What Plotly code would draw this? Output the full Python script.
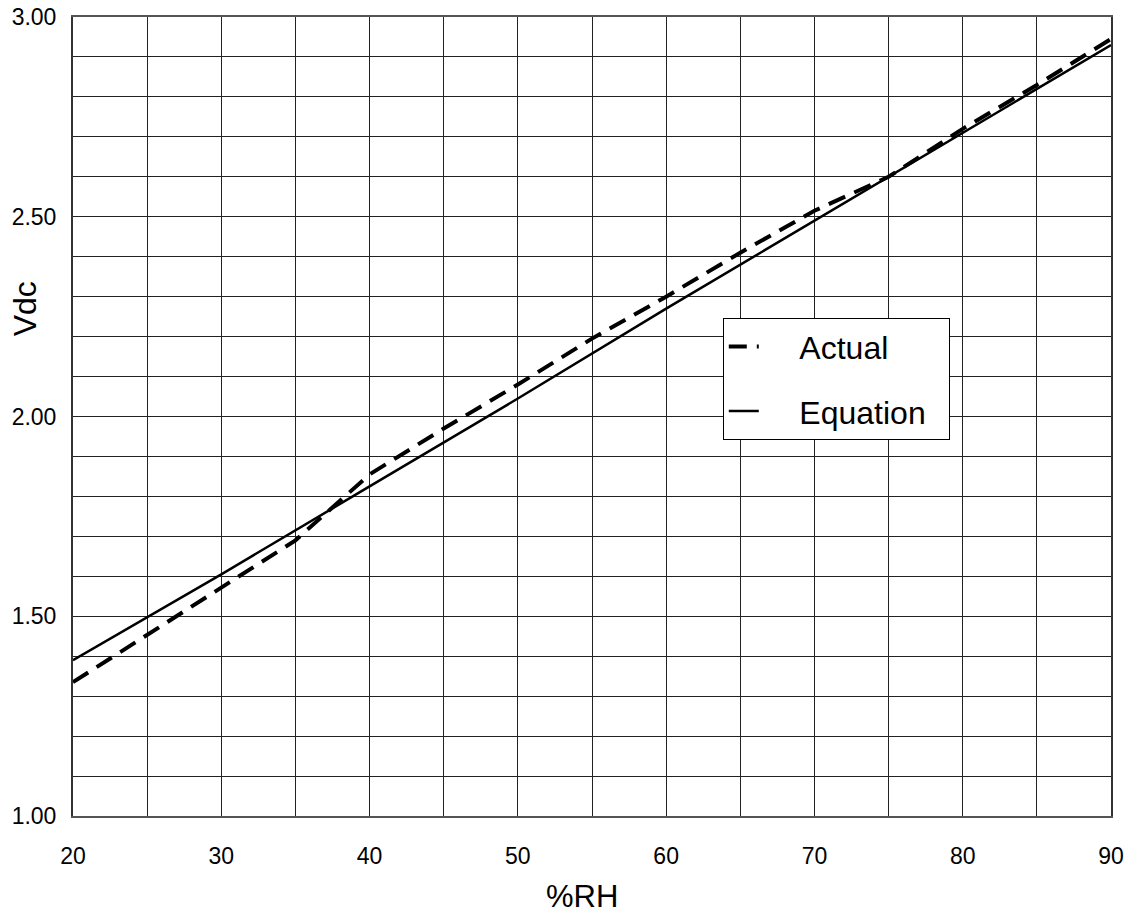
import plotly.graph_objects as go

# %RH readings
rh_actual = [20, 25, 30, 35, 40, 45, 50, 55, 60, 65, 70, 75, 80, 85, 90]
vdc_actual = [1.335, 1.453, 1.572, 1.69, 1.855, 1.97, 2.08, 2.195, 2.30, 2.41,
              2.515, 2.60, 2.72, 2.83, 2.945]

rh_equation = [20, 30, 40, 50, 60, 70, 80, 90]
vdc_equation = [1.39, 1.605, 1.825, 2.045, 2.27, 2.49, 2.71, 2.93]

x_ticks = [20, 30, 40, 50, 60, 70, 80, 90]
y_ticks = [1.0, 1.5, 2.0, 2.5, 3.0]
y_tick_text = ["1.00", "1.50", "2.00", "2.50", "3.00"]

FONT = "Liberation Sans, Arial, sans-serif"
NB = "\u00a0"

fig = go.Figure()
fig.add_trace(go.Scatter(
    x=rh_actual, y=vdc_actual, mode="lines", name=NB * 4 + "Actual" + NB * 2,
    legendgroup="a",
    line=dict(color="black", width=4, dash="18px,10px"),
))
fig.add_trace(go.Scatter(
    x=rh_equation, y=vdc_equation, mode="lines", name=NB * 4 + "Equation" + NB * 2,
    legendgroup="b",
    line=dict(color="black", width=2.5),
))

grid = "#222222"
fig.update_layout(
    width=1128, height=915,
    margin=dict(l=73, r=17, t=17, b=99),
    paper_bgcolor="white", plot_bgcolor="white",
    font=dict(family=FONT, color="black", size=23),
    showlegend=True,
    legend=dict(
        x=0.626, y=0.623, xanchor="left", yanchor="top",
        bordercolor="black", borderwidth=1, bgcolor="white",
        font=dict(size=32, family=FONT, color="black"),
        tracegroupgap=20,
    ),
    xaxis=dict(
        range=[20, 90], tickvals=x_ticks, ticktext=[str(v) for v in x_ticks],
        showgrid=True, gridcolor=grid, gridwidth=1,
        minor=dict(dtick=5, showgrid=True, gridcolor=grid, gridwidth=1),
        showline=True, linecolor="#555555", linewidth=2, mirror=True,
        ticks="", ticklabelstandoff=18, zeroline=False, automargin=False,
        tickfont=dict(size=23),
    ),
    yaxis=dict(
        range=[1.0, 3.0], tickvals=y_ticks, ticktext=y_tick_text,
        showgrid=True, gridcolor=grid, gridwidth=1,
        minor=dict(dtick=0.1, showgrid=True, gridcolor=grid, gridwidth=1),
        showline=True, linecolor="#333333", linewidth=2, mirror=True,
        ticks="", ticklabelstandoff=10, zeroline=False, automargin=False,
        tickfont=dict(size=23),
    ),
    annotations=[
        dict(text="%RH", xref="paper", yref="paper", x=0.490, y=-0.1013,
             xanchor="center", yanchor="middle", showarrow=False,
             font=dict(size=31, family=FONT)),
        dict(text="Vdc", xref="paper", yref="paper", x=-0.046, y=0.6345,
             xanchor="center", yanchor="middle", showarrow=False, textangle=-90,
             font=dict(size=32, family=FONT)),
    ],
)

fig.write_html(
    "out.html",
    config={"displayModeBar": False},
    post_script="document.body.style.margin='0';document.body.style.overflow='hidden';",
)
